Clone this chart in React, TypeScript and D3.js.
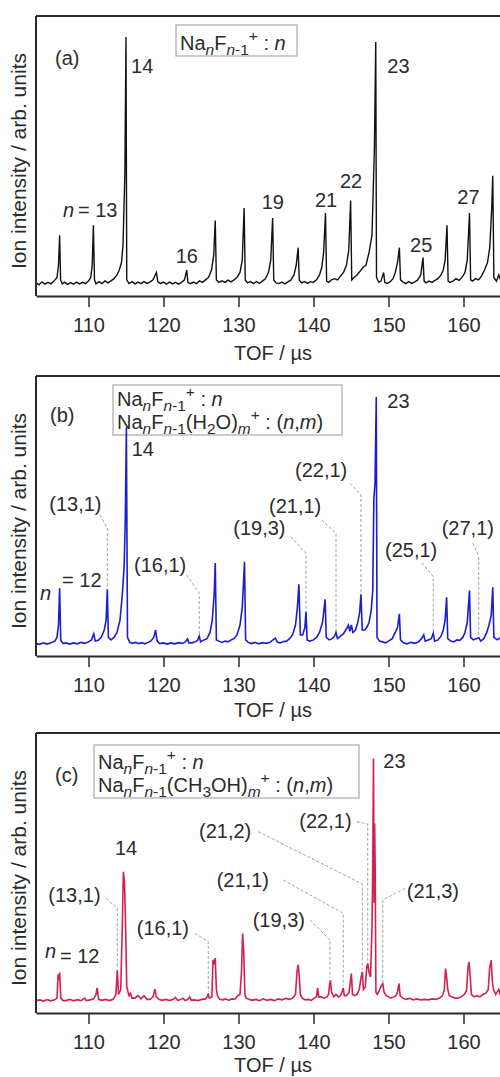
import React, { useEffect, useRef } from "react";
import { select, scaleLinear, line, axisBottom } from "d3";

// TOF / µs tick labels
const tofTicks = [110, 120, 130, 140, 150, 160];

// spectra: [TOF µs, intensity]
const spectrumA: [number, number][] = [
  [103.0, 0.8], [103.4, 0], [103.8, 1.2], [104.2, 0.3], [104.6, 1], [105.0, 0.4], [105.4, 1.5], [105.8, 3],
  [106.0, 8], [106.15, 20], [106.28, 2], [106.5, 0.4], [106.8, 1.1], [107.2, 0.2], [107.6, 0.9], [108.0, 0.3],
  [108.4, 1.1], [108.8, 0.4], [109.2, 1], [109.6, 0.5], [110.0, 1.5], [110.3, 3], [110.5, 8], [110.65, 24],
  [110.8, 2], [111.0, 0.4], [111.4, 1.3], [111.8, 0.5], [112.2, 1.6], [112.6, 0.8], [113.0, 1.6], [113.4, 2.5],
  [113.8, 4], [114.1, 6], [114.4, 9], [114.6, 16], [114.85, 45], [115.0, 100], [115.1, 2], [115.4, 0.5],
  [115.8, 1.3], [116.2, 0.4], [116.6, 1.1], [117.0, 0.5], [117.4, 1.3], [117.8, 0.6], [118.2, 1.1], [118.6, 2],
  [118.9, 4], [119.05, 5], [119.25, 1.3], [119.6, 0.5], [120.0, 1.1], [120.4, 0.3], [120.8, 1.1], [121.2, 0.4],
  [121.6, 1], [122.0, 0.3], [122.4, 1], [122.8, 2], [123.1, 6], [123.25, 1], [123.6, 0.5], [124.0, 1.1],
  [124.4, 0.5], [124.8, 1.6], [125.2, 1], [125.6, 2], [126.0, 3], [126.4, 6], [126.7, 12], [126.9, 26],
  [127.05, 2], [127.4, 1], [127.8, 1.6], [128.2, 1], [128.6, 1.9], [129.0, 1.2], [129.4, 2], [129.8, 3],
  [130.2, 5], [130.5, 10], [130.75, 31], [130.9, 2], [131.2, 0.8], [131.6, 1.3], [132.0, 0.5], [132.4, 1.3],
  [132.8, 0.6], [133.2, 1.5], [133.6, 2.5], [134.0, 5], [134.3, 10], [134.55, 27], [134.7, 2], [135.0, 0.8],
  [135.4, 0.5], [135.8, 1.1], [136.2, 0.4], [136.6, 1.2], [137.0, 2], [137.4, 4], [137.7, 8], [137.95, 15],
  [138.1, 2], [138.4, 0.8], [138.8, 1.3], [139.2, 0.6], [139.6, 1.3], [140.0, 1], [140.4, 2], [140.8, 4],
  [141.1, 7], [141.35, 13], [141.6, 29], [141.75, 1.5], [142.0, 1], [142.4, 2], [142.8, 2.5], [143.2, 2],
  [143.6, 3.5], [144.0, 5], [144.4, 8], [144.7, 14], [144.95, 34], [145.1, 2], [145.4, 3], [145.8, 4],
  [146.2, 5.5], [146.6, 7], [147.0, 8], [147.4, 13], [147.8, 20], [148.0, 42], [148.12, 55], [148.3, 98],
  [148.4, 3], [148.7, 1], [149.0, 1.5], [149.35, 5], [149.5, 1], [149.8, 0.6], [150.2, 1.2], [150.6, 2.5],
  [150.9, 5], [151.2, 9], [151.45, 15], [151.6, 2], [151.9, 1.2], [152.3, 0.5], [152.7, 1.3], [153.1, 0.6],
  [153.5, 1.2], [153.9, 2], [154.3, 4], [154.6, 11], [154.75, 1.5], [155.0, 0.8], [155.4, 1.5], [155.8, 1],
  [156.2, 1.8], [156.6, 2.5], [157.0, 4], [157.3, 6], [157.55, 10], [157.8, 24], [157.95, 1.5], [158.2, 1],
  [158.6, 1.5], [159.0, 2.5], [159.4, 1.8], [159.8, 3], [160.2, 5], [160.5, 10], [160.8, 29], [160.95, 2],
  [161.2, 1.5], [161.6, 2.5], [162.0, 2], [162.4, 3.5], [162.8, 6], [163.2, 9], [163.5, 15], [163.75, 30],
  [163.9, 44], [164.05, 3], [164.4, 1.5], [164.7, 4], [165.0, 1.5], [166.0, 1],
];

const spectrumB: [number, number][] = [
  [103.0, 0.5], [103.5, 0.2], [104.0, 0.8], [104.5, 0.3], [105.0, 0.8], [105.5, 1.5], [105.8, 3], [106.0, 8],
  [106.15, 22.8], [106.3, 2], [106.6, 0.5], [107.0, 0.8], [107.5, 0.3], [108.0, 0.8], [108.5, 0.4], [109.0, 1],
  [109.5, 0.6], [110.0, 1.2], [110.4, 2], [110.7, 4.4], [110.9, 1.5], [111.3, 1.8], [111.7, 3], [112.1, 6],
  [112.35, 10], [112.51, 22.4], [112.65, 3], [113.0, 2], [113.4, 3], [113.8, 5], [114.2, 10], [114.5, 20],
  [114.75, 31.5], [114.9, 50], [115.05, 87.7], [115.2, 3], [115.5, 1], [115.9, 0.6], [116.3, 1], [116.7, 0.5],
  [117.1, 0.9], [117.5, 0.4], [117.9, 0.9], [118.3, 1.5], [118.7, 3], [118.95, 6], [119.15, 1.5], [119.5, 0.5],
  [120.0, 0.8], [120.5, 0.3], [121.0, 0.8], [121.5, 0.4], [122.0, 0.9], [122.5, 0.6], [122.9, 1.2], [123.2, 2.4],
  [123.4, 0.8], [123.8, 0.8], [124.2, 1.2], [124.55, 1.8], [124.77, 3.5], [124.95, 1.2], [125.4, 2], [125.8, 2.5],
  [126.2, 5], [126.5, 10], [126.75, 20], [126.9, 33], [127.05, 2], [127.4, 1.5], [127.8, 1], [128.2, 1.5],
  [128.6, 1.2], [129.0, 2], [129.4, 2.5], [129.8, 4], [130.2, 8], [130.5, 15], [130.8, 33.5], [130.95, 2],
  [131.3, 1], [131.7, 0.5], [132.2, 1], [132.7, 0.4], [133.2, 0.9], [133.7, 0.6], [134.2, 1], [134.6, 2],
  [134.9, 2.7], [135.2, 1], [135.6, 0.8], [136.0, 1.3], [136.4, 1.5], [136.8, 2.5], [137.2, 4], [137.6, 8],
  [137.85, 15], [138.05, 24.4], [138.25, 4], [138.55, 4], [138.85, 7], [139.0, 13.4], [139.15, 2], [139.5, 1.5],
  [140.0, 2], [140.4, 3], [140.8, 5], [141.2, 9], [141.55, 18.4], [141.7, 3], [142.1, 2], [142.5, 2.5],
  [142.8, 3.5], [143.0, 5], [143.2, 2.5], [143.6, 3.5], [144.0, 4.5], [144.4, 6.5], [144.65, 8], [144.85, 5.5],
  [145.05, 8], [145.25, 5], [145.6, 6], [145.9, 9], [146.15, 13], [146.33, 20.4], [146.5, 6], [146.8, 6],
  [147.1, 7], [147.4, 9], [147.7, 14], [147.9, 22], [148.05, 59], [148.2, 65], [148.37, 100], [148.47, 3],
  [148.8, 1.5], [149.2, 1.2], [149.6, 0.8], [150.0, 1.5], [150.5, 2.5], [150.9, 5], [151.2, 7], [151.45, 12.5],
  [151.6, 2], [152.0, 0.8], [152.5, 0.4], [153.0, 1], [153.5, 0.6], [154.0, 1.2], [154.4, 2.5], [154.7, 4],
  [154.9, 1.5], [155.3, 2], [155.7, 2.5], [155.97, 4.7], [156.15, 1.5], [156.6, 2], [157.0, 3.5], [157.3, 6],
  [157.55, 10], [157.75, 19.2], [157.9, 2.5], [158.3, 1.5], [158.7, 1.2], [159.1, 2], [159.5, 1.8], [159.9, 3],
  [160.2, 5], [160.5, 9], [160.8, 21.9], [160.95, 3], [161.3, 2], [161.7, 2.5], [162.03, 2.9], [162.3, 1.5],
  [162.7, 2.5], [163.1, 5], [163.4, 8], [163.7, 12], [163.9, 23.2], [164.05, 3], [164.5, 2], [165.0, 3],
  [166.0, 1],
];

const spectrumC: [number, number][] = [
  [103.0, 0.5], [103.5, 0.8], [104.0, 0.3], [104.5, 0.9], [105.0, 0.4], [105.5, 0.8], [105.8, 1.5], [105.95, 11],
  [106.05, 9], [106.15, 11.8], [106.3, 1.5], [106.6, 0.5], [107.0, 0.5], [107.5, 1], [108.0, 0.4], [108.5, 0.9],
  [109.0, 0.5], [109.5, 1.5], [109.7, 0.5], [110.2, 0.8], [110.7, 1.2], [111.0, 3], [111.15, 5.6], [111.35, 1],
  [111.8, 0.6], [112.3, 1], [112.8, 0.5], [113.3, 1], [113.65, 3], [113.84, 12.8], [114.0, 3], [114.3, 5],
  [114.5, 30], [114.65, 52.5], [114.8, 48], [114.95, 30], [115.1, 6], [115.4, 2.5], [115.6, 3.5], [115.8, 1.5],
  [116.2, 1.5], [116.6, 2.5], [117.0, 1.2], [117.4, 2.5], [117.8, 1], [118.2, 1], [118.6, 2], [118.85, 5.1],
  [119.05, 2], [119.4, 1], [119.8, 0.6], [120.3, 1], [120.8, 0.5], [121.3, 1], [121.6, 1.8], [121.9, 0.5],
  [122.3, 1], [122.6, 1.5], [122.9, 0.5], [123.3, 1.2], [123.5, 2], [123.7, 0.6], [124.1, 0.8], [124.6, 0.5],
  [125.1, 1], [125.6, 1.2], [125.85, 2.2], [125.97, 3.4], [126.1, 1.5], [126.45, 2], [126.6, 17], [126.75, 15],
  [126.9, 17.7], [127.05, 5], [127.2, 2.5], [127.5, 1], [127.9, 0.8], [128.3, 1.2], [128.7, 0.6], [129.1, 1.2],
  [129.5, 1], [129.9, 2.5], [130.2, 3], [130.4, 12], [130.55, 27.6], [130.7, 20], [130.85, 3], [131.0, 1.5],
  [131.4, 1], [131.8, 0.6], [132.3, 1], [132.8, 0.5], [133.3, 1.2], [133.8, 0.6], [134.3, 1], [134.8, 0.5],
  [135.3, 1.2], [135.8, 0.8], [136.3, 1.4], [136.8, 1], [137.2, 1.5], [137.6, 3], [137.8, 12], [137.95, 15],
  [138.1, 10], [138.25, 3], [138.5, 1.5], [138.9, 0.8], [139.3, 1], [139.7, 0.6], [140.1, 1.5], [140.4, 2],
  [140.55, 5.6], [140.7, 2], [141.0, 2], [141.4, 1.5], [141.8, 2], [142.0, 3], [142.15, 7], [142.25, 8.7],
  [142.4, 4], [142.7, 2], [143.0, 3], [143.3, 2], [143.6, 2.5], [143.85, 4.5], [143.97, 5.6], [144.1, 2.5],
  [144.4, 2.5], [144.75, 4], [145.05, 11.4], [145.2, 3], [145.5, 2.5], [145.8, 3], [146.1, 5], [146.35, 10],
  [146.51, 12.1], [146.65, 5], [146.9, 6], [147.1, 14], [147.23, 15.5], [147.4, 12], [147.6, 10], [147.8, 30],
  [147.9, 55], [148.0, 98.2], [148.08, 40], [148.15, 72], [148.22, 56], [148.32, 4], [148.5, 3], [148.7, 4],
  [148.95, 6], [149.23, 7.4], [149.4, 4], [149.7, 2.5], [150.0, 2], [150.3, 1.5], [150.7, 2], [151.0, 2.5],
  [151.2, 4], [151.4, 7.4], [151.55, 2.5], [151.9, 1.5], [152.3, 1], [152.8, 1.4], [153.3, 0.8], [153.8, 1.2],
  [154.3, 0.8], [154.8, 1], [155.3, 0.8], [155.8, 1.2], [156.3, 1], [156.8, 1.5], [157.2, 2.5], [157.45, 5],
  [157.6, 13.4], [157.75, 10], [157.9, 5], [158.1, 2.5], [158.5, 2], [158.9, 1.5], [159.3, 1.5], [159.7, 2],
  [160.1, 3], [160.4, 4.5], [160.6, 14], [160.75, 16.1], [160.9, 10], [161.05, 3], [161.4, 2], [161.8, 2.5],
  [162.2, 2], [162.6, 3], [163.0, 3.5], [163.3, 5], [163.5, 14], [163.7, 16.8], [163.85, 8], [164.0, 5],
  [164.3, 3], [164.7, 5], [165.0, 2], [166.0, 1],
];

// peak annotations, anchored in data units (TOF, intensity)
type Label = { text: string; tof: number; v: number };
const labelsA: Label[] = [
  { text: "(a)", tof: 105.53, v: 88.7 },
  { text: "n", tof: 106.6, v: 27.4 },
  { text: "= 13", tof: 108.6, v: 27.4 },
  { text: "14", tof: 115.67, v: 85.6 },
  { text: "16", tof: 121.63, v: 8.8 },
  { text: "19", tof: 133.09, v: 30.6 },
  { text: "21", tof: 140.2, v: 31.4 },
  { text: "22", tof: 143.53, v: 39.1 },
  { text: "23", tof: 149.84, v: 85.6 },
  { text: "25", tof: 152.87, v: 13.4 },
  { text: "27", tof: 159.17, v: 32.6 },
];
const labelsB: Label[] = [
  { text: "(b)", tof: 104.87, v: 90.05 },
  { text: "n", tof: 103.53, v: 18.1 },
  { text: "= 12", tof: 106.47, v: 23.35 },
  { text: "14", tof: 115.76, v: 76.2 },
  { text: "(13,1)", tof: 104.77, v: 54.14 },
  { text: "(16,1)", tof: 116.07, v: 29.52 },
  { text: "(19,3)", tof: 129.3, v: 44.33 },
  { text: "(21,1)", tof: 134.07, v: 53.33 },
  { text: "(22,1)", tof: 137.53, v: 67.86 },
  { text: "(25,1)", tof: 149.53, v: 35.57 },
  { text: "(27,1)", tof: 157.09, v: 44.33 },
  { text: "23", tof: 149.84, v: 95.46 },
];
const labelsC: Label[] = [
  { text: "(c)", tof: 105.53, v: 88.84 },
  { text: "n", tof: 104.2, v: 17.7 },
  { text: "= 12", tof: 106.2, v: 15.68 },
  { text: "14", tof: 113.53, v: 59.26 },
  { text: "(13,1)", tof: 104.64, v: 40.42 },
  { text: "(16,1)", tof: 116.43, v: 26.98 },
  { text: "(21,2)", tof: 124.73, v: 66.12 },
  { text: "(21,1)", tof: 127.09, v: 46.47 },
  { text: "(19,3)", tof: 131.89, v: 30.33 },
  { text: "(22,1)", tof: 138.11, v: 70.04 },
  { text: "23", tof: 149.31, v: 94.25 },
  { text: "(21,3)", tof: 152.43, v: 41.79 },
];

// dashed leaders from label to peak, [TOF, intensity] vertices
const leadersB: [number, number][][] = [
  [[111.53, 52.4], [112.51, 47.03], [112.51, 22.9]],
  [[123.09, 28.19], [124.77, 20.8], [124.77, 3.97]],
  [[136.96, 43.64], [139.0, 36.94], [139.0, 14.06]],
  [[141.09, 50.38], [143.0, 45.02], [143.0, 5.3]],
  [[144.87, 65.19], [146.33, 60.47], [146.33, 20.8]],
  [[154.43, 33.15], [155.97, 27.5], [155.97, 4.9]],
  [[161.23, 40.98], [162.03, 35.86], [162.03, 2.88]],
];
const leadersC: [number, number][][] = [
  [[112.33, 41.79], [113.84, 37.75], [113.84, 13.54]],
  [[124.2, 27.66], [125.97, 24.27], [125.97, 4.1]],
  [[132.64, 68.66], [146.51, 47.56], [146.51, 12.85]],
  [[135.97, 49.17], [143.97, 35.73], [143.97, 6.4]],
  [[139.53, 33.03], [142.2, 24.96], [142.2, 9.5]],
  [[145.76, 72.7], [147.23, 71.77], [147.23, 16.2]],
  [[152.2, 45.82], [149.23, 41.1], [149.23, 8.13]],
];

// legend text pieces: s = sub/sup, i = italic
type Seg = { t: string; s?: "sub" | "sup"; i?: boolean };
const ionLine: Seg[] = [
  { t: "Na" }, { t: "n", s: "sub", i: true }, { t: "F" }, { t: "n", s: "sub", i: true }, { t: "-1", s: "sub" },
  { t: "+", s: "sup" }, { t: " : " }, { t: "n", i: true },
];
const waterLine: Seg[] = [
  { t: "Na" }, { t: "n", s: "sub", i: true }, { t: "F" }, { t: "n", s: "sub", i: true }, { t: "-1", s: "sub" },
  { t: "(H" }, { t: "2", s: "sub" }, { t: "O)" }, { t: "m", s: "sub", i: true }, { t: "+", s: "sup" },
  { t: " : (" }, { t: "n", i: true }, { t: "," }, { t: "m", i: true }, { t: ")" },
];
const methanolLine: Seg[] = [
  { t: "Na" }, { t: "n", s: "sub", i: true }, { t: "F" }, { t: "n", s: "sub", i: true }, { t: "-1", s: "sub" },
  { t: "(CH" }, { t: "3", s: "sub" }, { t: "OH)" }, { t: "m", s: "sub", i: true }, { t: "+", s: "sup" },
  { t: " : (" }, { t: "n", i: true }, { t: "," }, { t: "m", i: true }, { t: ")" },
];

const FONT = "'Liberation Sans', Arial, Helvetica, sans-serif";
const LEFT = 36;
const RIGHT = 538.5;
const PH = 280;
const INK = "#2b2b2b";

function Rich({ x, y, segs }: { x: number; y: number; segs: Seg[] }) {
  let shift = 0;
  return (
    <text x={x} y={y} fontSize={20} fill={INK} style={{ whiteSpace: "pre" }}>
      {segs.map((s, i) => {
        const target = s.s === "sub" ? 5 : s.s === "sup" ? -9 : 0;
        const dy = target - shift;
        shift = target;
        return (
          <tspan key={i} dy={dy} fontSize={s.s ? 15.5 : 20} fontStyle={s.i ? "italic" : "normal"}>
            {s.t}
          </tspan>
        );
      })}
    </text>
  );
}

function Panel({ id, top, spectrum, color, width, labels, leaders, legend, box, titleGap }: any) {
  const axisRef = useRef<SVGGElement>(null);
  const x = scaleLinear().domain([103, 170]).range([LEFT, RIGHT]);
  const y = scaleLinear().domain([-4.5, 108.5]).range([top + PH, top]);
  const path = line<[number, number]>().x(d => x(d[0])).y(d => y(d[1]));

  useEffect(() => {
    const g = select(axisRef.current);
    g.call(axisBottom(x).tickValues(tofTicks).tickSize(11).tickSizeOuter(0).tickPadding(11) as any);
    g.attr("font-size", 20).attr("font-family", FONT);
    g.select(".domain").attr("stroke", INK).attr("stroke-width", 2);
    g.selectAll(".tick line").attr("stroke", INK).attr("stroke-width", 1.5);
    g.selectAll(".tick text").attr("fill", INK);
  }, [top]);

  // box = [x, y offset, width, height, first baseline offset, line gap]
  return (
    <g>
      <defs>
        <clipPath id={`clip-${id}`}>
          <rect x={LEFT} y={top} width={RIGHT - LEFT} height={PH} />
        </clipPath>
      </defs>
      <rect x={box[0]} y={top + box[1]} width={box[2]} height={box[3]} fill="#fff" stroke="#a8a8a8" strokeWidth={1.2} />
      {legend.map((segs: Seg[], i: number) => (
        <Rich key={i} x={box[0] + 4} y={top + box[1] + box[4] + i * box[5]} segs={segs} />
      ))}
      {leaders.map((pts: [number, number][], i: number) => (
        <path key={i} d={path(pts) || ""} fill="none" stroke="#a0a0a0" strokeWidth={1} strokeDasharray="3,2" />
      ))}
      <path d={path(spectrum) || ""} fill="none" stroke={color} strokeWidth={width}
        clipPath={`url(#clip-${id})`} />
      <line x1={LEFT} x2={RIGHT} y1={top} y2={top} stroke={INK} strokeWidth={2} />
      <line x1={LEFT} x2={LEFT} y1={top} y2={top + PH} stroke={INK} strokeWidth={2} />
      <g ref={axisRef} transform={`translate(0, ${top + PH})`} />
      {labels.map((l: Label, i: number) => (
        <text key={i} x={x(l.tof)} y={y(l.v)} fontSize={20} fill={INK}
          fontStyle={l.text === "n" ? "italic" : "normal"}>{l.text}</text>
      ))}
      <text transform={`translate(26, ${top + 145}) rotate(-90)`} textAnchor="middle" fontSize={21} fill={INK}>
        Ion intensity / arb. units
      </text>
      <text x={273} y={top + PH + titleGap} textAnchor="middle" fontSize={20} fill={INK}>TOF / µs</text>
    </g>
  );
}

export default function App() {
  return (
    <svg width={500} height={1077} fontFamily={FONT}
      style={{ position: "absolute", left: 0, top: 0, display: "block", background: "#fff" }}>
      <Panel id="a" top={16} spectrum={spectrumA} color="#111111" width={1.4} titleGap={64}
        labels={labelsA} leaders={[]} legend={[ionLine]} box={[176, 9, 121, 31, 25, 0]} />
      <Panel id="b" top={376} spectrum={spectrumB} color="#1c1cd4" width={1.6} titleGap={61}
        labels={labelsB} leaders={leadersB} legend={[ionLine, waterLine]} box={[113, 9, 229, 50, 21, 22.5]} />
      <Panel id="c" top={733} spectrum={spectrumC} color="#d3204f" width={1.6} titleGap={59}
        labels={labelsC} leaders={leadersC} legend={[ionLine, methanolLine]} box={[94, 12, 265, 53, 24, 23]} />
    </svg>
  );
}
